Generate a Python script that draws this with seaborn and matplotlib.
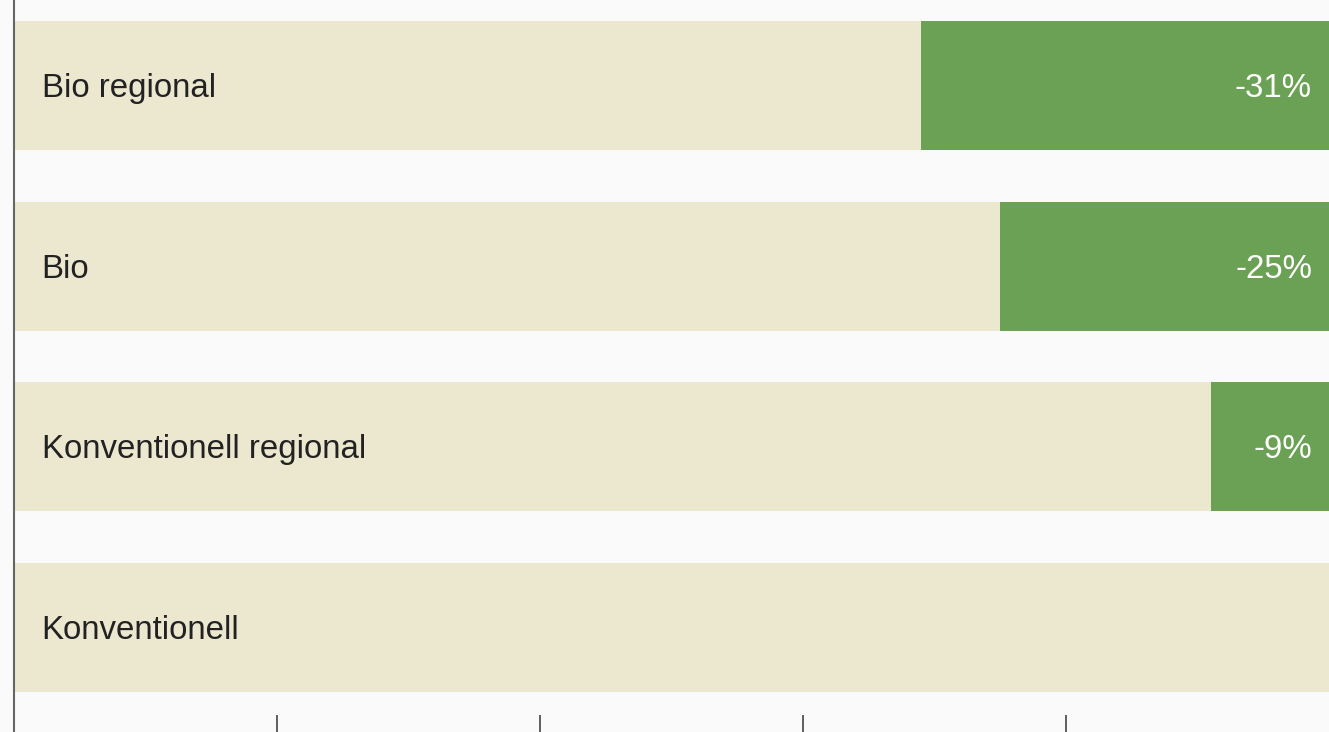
import numpy as np
import pandas as pd
import matplotlib.pyplot as plt
import seaborn as sns

# Data
categories = ["Bio regional", "Bio", "Konventionell regional", "Konventionell"]
reduction = [31, 25, 9, 0]          # percent reduction vs. Konventionell
labels = ["-31%", "-25%", "-9%", ""]
ticks = [20, 40, 60, 80]

sns.set_theme(style="white")
plt.rcParams['font.family'] = ['Liberation Sans', 'DejaVu Sans']

df = pd.DataFrame({
    "cat": categories,
    "total": [100] * len(categories),
    "remaining": [100 - r for r in reduction],
})

beige = "#ebe8cf"
green = "#6ba154"
bg = "#fafafa"

fig = plt.figure(figsize=(13.29, 7.32), dpi=100, facecolor=bg)
ax = fig.add_axes([13.5 / 1329, 0, 1 - 13.5 / 1329, 1])
ax.set_facecolor(bg)

# full-length green bar, then beige remainder on top of it
sns.barplot(data=df, y="cat", x="total", color=green, width=0.714,
            saturation=1, ax=ax, orient="h", linewidth=0)
sns.barplot(data=df, y="cat", x="remaining", color=beige, width=0.714,
            saturation=1, ax=ax, orient="h", linewidth=0)

ax.set_xlim(0, 100)
ax.set_ylim(3 + (732 - 627.5) / 180.7, -85.5 / 180.7)

for i, (cat, lab) in enumerate(zip(categories, labels)):
    ax.annotate(cat, xy=(0, i), xytext=(28, -3), textcoords="offset pixels",
                ha="left", va="center", fontsize=23.8, color="#222222")
    if lab:
        ax.annotate(lab, xy=(100, i), xytext=(-17, -3), textcoords="offset pixels",
                    ha="right", va="center", fontsize=23.8, color="white")

ax.set_xlabel("")
ax.set_ylabel("")
ax.set_yticks([])
ax.set_xticks(ticks)
ax.set_xticklabels([])
ax.tick_params(axis="x", direction="in", length=12, width=1.2, color="#444444",
               bottom=True)
for s in ["top", "right", "bottom"]:
    ax.spines[s].set_visible(False)
ax.spines["left"].set_color("#666666")
ax.spines["left"].set_linewidth(1.5)

fig.savefig("out.png", dpi=100, facecolor=bg)
